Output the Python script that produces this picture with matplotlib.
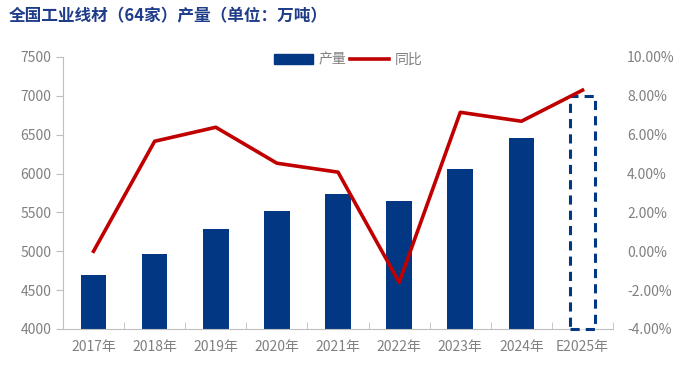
import matplotlib.pyplot as plt
from matplotlib.patches import Patch
from matplotlib.lines import Line2D
import numpy as np

plt.rcParams['font.family'] = ['Noto Sans CJK SC', 'DejaVu Sans']

years = ['2017年', '2018年', '2019年', '2020年', '2021年', '2022年', '2023年', '2024年', 'E2025年']
output = [4700, 4970, 5280, 5520, 5740, 5650, 6060, 6460, 7000]
yoy = [0.0, 5.66, 6.38, 4.53, 4.07, -1.6, 7.15, 6.69, 8.29]

navy = '#023883'
red = '#C00000'
grey = '#808080'
ymin = 4000

fig = plt.figure(figsize=(6.92, 3.72), dpi=100)
ax = fig.add_axes([0.091, 0.1156, 0.795, 0.7314])
x = np.arange(len(years))

# actual bars, last one is an estimate drawn as a dashed outline
ax.bar(x[:-1], output[:-1], width=0.42, color=navy, zorder=2)
est = ax.bar(x[-1], output[-1] - ymin, bottom=ymin, width=0.42, facecolor='white',
             edgecolor=navy, linewidth=2.2, linestyle=(0, (3, 2)), zorder=4)
for b in est:
    b.set_clip_on(False)

ax.set_ylim(ymin, 7500)
ax.set_yticks(np.arange(4000, 7501, 500))
ax.set_xlim(-0.5, len(years) - 0.5)
ax.set_xticks(x)
ax.set_xticklabels(years)
ax.set_xticks(np.arange(-0.5, len(years), 1), minor=True)
ax.tick_params(axis='x', which='major', length=0, colors=grey, labelsize=10, pad=8)
ax.tick_params(axis='x', which='minor', length=5, color='#BFBFBF', direction='in')
ax.tick_params(axis='y', length=5, color='#BFBFBF', colors=grey, labelsize=10)
for s in ['top', 'right']:
    ax.spines[s].set_visible(False)
ax.spines['left'].set_color('#BFBFBF')
ax.spines['bottom'].set_color('#BFBFBF')

ax2 = ax.twinx()
ax2.plot(x, yoy, color=red, linewidth=2.6, zorder=3)
ax2.set_ylim(-4, 10)
ax2.set_yticks(np.arange(-4, 10.1, 2))
ax2.set_yticklabels([f'{v:.2f}%' for v in np.arange(-4, 10.1, 2)])
ax2.tick_params(axis='y', length=0, colors=grey, labelsize=10, pad=10)
for s in ['top', 'right', 'left', 'bottom']:
    ax2.spines[s].set_visible(False)

handles = [Patch(color=navy), Line2D([0], [0], color=red, linewidth=2.6)]
fig.legend(handles, ['产量', '同比'], loc='center', bbox_to_anchor=(0.503, 0.84),
           ncol=2, frameon=False, fontsize=10, labelcolor=grey,
           handlelength=2.8, handletextpad=0.4, columnspacing=0.3)

fig.text(0.012, 0.955, '全国工业线材（64家）产量（单位：万吨）', fontsize=12,
         fontweight='bold', color='#1F3C88', va='center')

fig.savefig('out.png', dpi=100)
